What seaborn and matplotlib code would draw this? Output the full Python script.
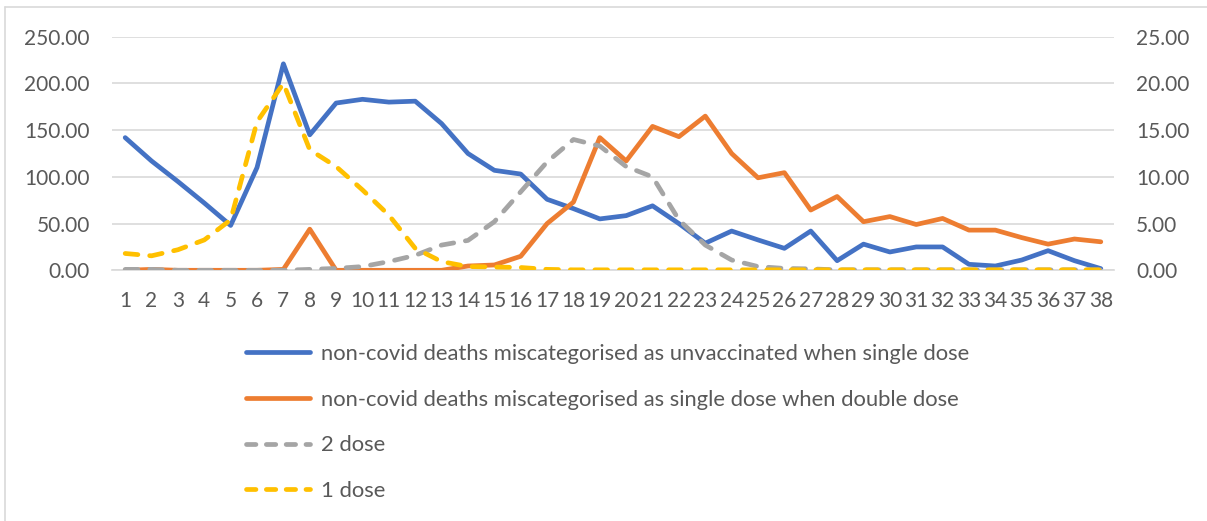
import numpy as np
import pandas as pd
import matplotlib
matplotlib.use("Agg")
import matplotlib.pyplot as plt
from matplotlib.lines import Line2D
import seaborn as sns

weeks = list(range(1, 39))

# left axis
unvacc_when_single = [142, 117, 95, 72, 48, 110, 221, 145, 179, 183,
                      180, 181, 157, 125, 107, 103, 76, 66, 55, 58.5,
                      69, 50, 29, 42, 32.5, 23.5, 42, 10.3, 28, 19.6,
                      25, 25, 6.4, 4.6, 11, 21, 10.3, 1.8]

# right axis
single_when_double = [0, 0.1, 0, 0, 0, 0, 0.1, 4.4, 0, 0,
                      0, 0, 0, 0.46, 0.57, 1.5, 5.0, 7.3, 14.2, 11.7,
                      15.4, 14.3, 16.5, 12.5, 9.9, 10.45, 6.45, 7.9, 5.2, 5.75,
                      4.9, 5.55, 4.3, 4.3, 3.5, 2.8, 3.35, 3.05]
two_dose = [0.1, 0.1, 0, 0, 0, 0, 0, 0.1, 0.2, 0.4,
            0.93, 1.6, 2.7, 3.2, 5.2, 8.4, 11.6, 14.0, 13.3, 11.1,
            10.0, 5.4, 2.7, 1.1, 0.4, 0.2, 0.15, 0.05, 0.05, 0.05,
            0.05, 0.05, 0.05, 0.05, 0.05, 0.05, 0.05, 0.05]
one_dose = [1.8, 1.55, 2.2, 3.25, 5.4, 15.9, 20.0, 12.9, 11.1, 8.6,
            5.9, 2.35, 0.93, 0.4, 0.35, 0.3, 0.1, 0.05, 0.05, 0.05,
            0.05, 0.05, 0.05, 0.05, 0.05, 0.05, 0.05, 0.05, 0.05, 0.05,
            0.05, 0.05, 0.05, 0.05, 0.05, 0.05, 0.05, 0.05]

labels = ["non-covid deaths miscategorised as unvaccinated when single dose",
          "non-covid deaths miscategorised as single dose when double dose",
          "2 dose", "1 dose"]
colors = ["#4472C4", "#ED7D31", "#A5A5A5", "#FFC000"]

df = pd.DataFrame({"week": weeks, "blue": unvacc_when_single,
                   "orange": single_when_double, "gray": two_dose,
                   "yellow": one_dose})

sns.set_style("white")
plt.rcParams["font.family"] = ["Lato", "DejaVu Sans"]

fig = plt.figure(figsize=(12.07, 5.21), dpi=100)
ax = fig.add_axes([112 / 1207, 1 - 270.3 / 521, 1002 / 1207, 233.6 / 521])
ax2 = ax.twinx()

lw = 3.4
dash = (0, (2.7, 2.5))
sns.lineplot(data=df, x="week", y="blue", ax=ax, color=colors[0],
             linewidth=lw, solid_joinstyle="round")
sns.lineplot(data=df, x="week", y="orange", ax=ax2, color=colors[1],
             linewidth=lw, solid_joinstyle="round")
sns.lineplot(data=df, x="week", y="gray", ax=ax2, color=colors[2],
             linewidth=lw, linestyle=dash, dash_capstyle="round")
sns.lineplot(data=df, x="week", y="yellow", ax=ax2, color=colors[3],
             linewidth=lw, linestyle=dash, dash_capstyle="round")

ax.set_xlim(0.5, 38.5)
ax.set_ylim(0, 250)
ax2.set_ylim(0, 25)
ax.set_yticks(np.arange(0, 251, 50))
ax2.set_yticks(np.arange(0, 26, 5))
ax.set_yticklabels([f"{v:.2f}" for v in np.arange(0, 251, 50)])
ax2.set_yticklabels([f"{v:.2f}" for v in np.arange(0, 26, 5)])
ax.set_xticks(weeks)
ax.set_xticklabels([str(w) for w in weeks])

ax.grid(axis="y", color="#d9d9d9", linewidth=1.2)
ax.set_axisbelow(True)
for a in (ax, ax2):
    for s in a.spines.values():
        s.set_visible(False)
    a.set_xlabel("")
    a.set_ylabel("")
ax.spines["bottom"].set_visible(True)
ax.spines["bottom"].set_color("#d9d9d9")
ax.spines["bottom"].set_linewidth(1.2)

ax.tick_params(axis="y", length=0, pad=16, labelsize=15, labelcolor="#595959")
ax2.tick_params(axis="y", length=0, pad=16, labelsize=15, labelcolor="#595959")
ax.tick_params(axis="x", length=0, pad=15, labelsize=15, labelcolor="#595959")

leg_dash = (0, (2.0, 2.2))
handles = [Line2D([], [], color=colors[0], linewidth=lw, solid_capstyle="round"),
           Line2D([], [], color=colors[1], linewidth=lw, solid_capstyle="round"),
           Line2D([], [], color=colors[2], linewidth=lw, linestyle=leg_dash,
                  dash_capstyle="round"),
           Line2D([], [], color=colors[3], linewidth=lw, linestyle=leg_dash,
                  dash_capstyle="round")]
leg = fig.legend(handles, labels, loc="upper left",
                 bbox_to_anchor=(246 / 1207, 1 - 344 / 521),
                 frameon=False, fontsize=15.8, handlelength=2.9,
                 handletextpad=0.5, labelspacing=1.17, borderpad=0,
                 borderaxespad=0)
for t in leg.get_texts():
    t.set_color("#595959")

# chart border (only top and left visible in the crop)
fig.add_artist(Line2D([5 / 1207, 5 / 1207], [0, 1 - 7 / 521],
                      transform=fig.transFigure, color="#d9d9d9", linewidth=1.2))
fig.add_artist(Line2D([5 / 1207, 1], [1 - 7 / 521, 1 - 7 / 521],
                      transform=fig.transFigure, color="#d9d9d9", linewidth=1.2))

fig.savefig("out.png", dpi=100)
